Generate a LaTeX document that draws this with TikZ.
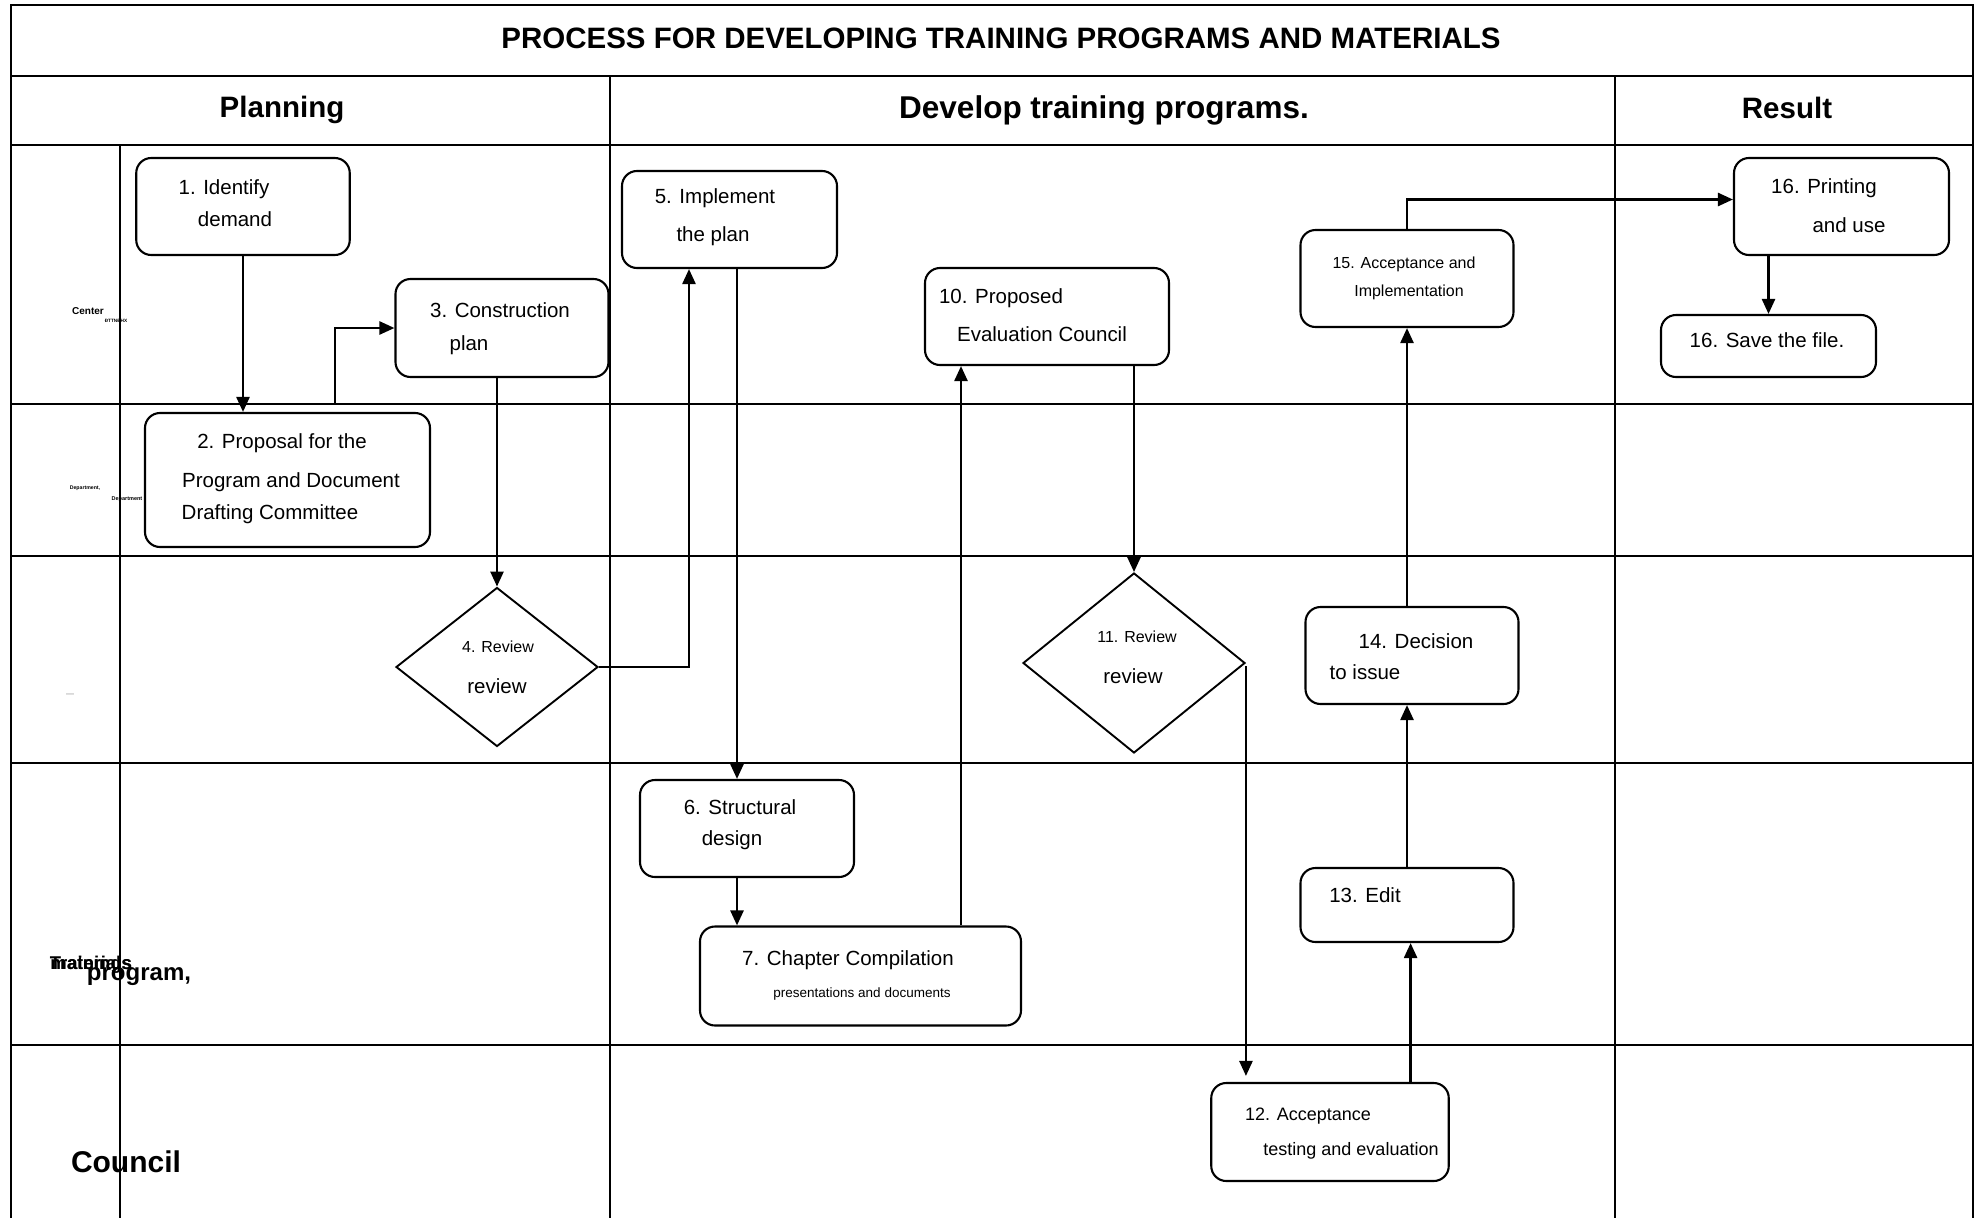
\documentclass[tikz,border=0pt]{standalone}
\usepackage{fontspec}
\setmainfont{Liberation Sans}
\usetikzlibrary{shapes.geometric,arrows.meta,calc}
\begin{document}
\begin{tikzpicture}[x=1pt,y=-1pt,
  grid/.style={line width=2.2pt},
  box/.style={draw, line width=2.1pt, rounded corners=15pt, inner sep=0pt},
  dia/.style={draw, diamond, line width=1.9pt, inner sep=0pt},
  arr/.style={line width=2.5pt, -{Triangle[length=15pt,width=13pt]}},
  t/.style={inner sep=0pt, font=\fontsize{20.5}{24}\selectfont},
  ts/.style={inner sep=0pt, font=\fontsize{16}{19}\selectfont},
  hd/.style={inner sep=0pt, font=\fontsize{29.5}{34}\selectfont\bfseries},
  lane/.style={inner sep=0pt, anchor=base},
]
\useasboundingbox (0,0) rectangle (1982,1218);
% ---------- table grid ----------
\draw[grid] (11,1218) -- (11,5) -- (1973,5) -- (1973,1218);
\foreach \yy in {76,145,404,556,763,1045} \draw[grid] (11,\yy) -- (1973,\yy);
\draw[grid] (120,145) -- (120,1218);
\draw[grid] (610,76) -- (610,1218);
\draw[grid] (1615,76) -- (1615,1218);
% ---------- headers ----------
\node[inner sep=0pt, font=\fontsize{29.5}{32}\selectfont\bfseries] (title) at (1001,38) {PROCESS FOR DEVELOPING TRAINING PROGRAMS AND MATERIALS};
\node[hd] (hplan) at (282,110) {Planning};
\node[hd, font=\fontsize{31.5}{36}\selectfont\bfseries] (hdev) at (1104,110) {Develop training programs.};
\node[hd] (hres) at (1787,107.5) {Result};
% ---------- lane labels ----------
\node[lane, font=\fontsize{10}{12}\selectfont\bfseries] (l1) at (88,314.5) {Center};
\node[lane, font=\fontsize{4.7}{6}\selectfont\bfseries] (l1b) at (116,322.5) {ĐTTNĐHX};
\node[lane, font=\fontsize{5.2}{6}\selectfont\bfseries] (l2) at (85,489) {Department,};
\node[lane, font=\fontsize{5.5}{6}\selectfont\bfseries] (l2b) at (127,500) {Department};
\node[inner sep=0pt, text=gray, font=\fontsize{8}{9}\selectfont] (l3) at (70,695) {—};
\node[lane, font=\fontsize{18.5}{20}\selectfont\bfseries] (l4a) at (91,969) {Trainings};
\node[lane, font=\fontsize{18.5}{20}\selectfont\bfseries] (l4b) at (91,969) {materials};
\node[lane, font=\fontsize{24}{26}\selectfont\bfseries] (l4c) at (139,980) {program,};
\node[lane, font=\fontsize{30}{32}\selectfont\bfseries] (l5) at (126,1172) {Council};
% ---------- boxes ----------
\node[box, minimum width=213.5pt, minimum height=97pt] (b1) at (243,206.5) {};
\node[box, minimum width=285pt, minimum height=134pt] (b2) at (287.5,480) {};
\node[box, minimum width=213pt, minimum height=98pt] (b3) at (502,328) {};
\node[dia, minimum width=202pt, minimum height=159pt] (d4) at (497,667) {};
\node[box, minimum width=215pt, minimum height=97pt] (b5) at (729.5,219.5) {};
\node[box, minimum width=214pt, minimum height=97pt] (b6) at (747,828.5) {};
\node[box, minimum width=321pt, minimum height=99pt] (b7) at (860.5,976) {};
\node[box, minimum width=244pt, minimum height=97pt] (b10) at (1047,316.5) {};
\node[dia, minimum width=222pt, minimum height=180pt] (d11) at (1134,663) {};
\node[box, minimum width=237.5pt, minimum height=98pt] (b12) at (1330,1132) {};
\node[box, minimum width=213pt, minimum height=74pt] (b13) at (1407,905) {};
\node[box, minimum width=213pt, minimum height=97pt] (b14) at (1412,655.5) {};
\node[box, minimum width=213pt, minimum height=97pt] (b15) at (1407,278.5) {};
\node[box, minimum width=215pt, minimum height=97pt] (b16a) at (1841.5,206.5) {};
\node[box, minimum width=215pt, minimum height=62pt] (b16b) at (1768.5,346) {};
% ---------- box texts ----------
\node[t] (t1a) at (224,189) {1. Identify};
\node[t] (t1b) at (235,219) {demand};
\node[t] (t2a) at (282,443) {2. Proposal for the};
\node[t] (t2b) at (291,482) {Program and Document};
\node[t] (t2c) at (270,514) {Drafting Committee};
\node[t] (t3a) at (500,310) {3. Construction};
\node[t] (t3b) at (469,345) {plan};
\node[ts] (t4a) at (498,647) {4. Review};
\node[t] (t4b) at (497,686) {review};
\node[t] (t5a) at (715,198) {5. Implement};
\node[t] (t5b) at (713,236) {the plan};
\node[t] (t6a) at (740,807) {6. Structural};
\node[t] (t6b) at (732,840) {design};
\node[t] (t7a) at (848,960) {7. Chapter Compilation};
\node[inner sep=0pt, font=\fontsize{13.5}{16}\selectfont] (t7b) at (862,994) {presentations and documents};
\node[t] (t10a) at (1001,298) {10. Proposed};
\node[t] (t10b) at (1042,334) {Evaluation Council};
\node[ts] (t11a) at (1137,637) {11. Review};
\node[t] (t11b) at (1133,676) {review};
\node[inner sep=0pt, font=\fontsize{18}{21}\selectfont] (t12a) at (1308,1116) {12. Acceptance};
\node[inner sep=0pt, font=\fontsize{18}{21}\selectfont] (t12b) at (1351,1151) {testing and evaluation};
\node[t] (t13) at (1365,895) {13. Edit};
\node[t] (t14a) at (1416,641) {14. Decision};
\node[t] (t14b) at (1365,672) {to issue};
\node[ts] (t15a) at (1404,264) {15. Acceptance and};
\node[ts] (t15b) at (1409,292) {Implementation};
\node[t] (t16a1) at (1824,188) {16. Printing};
\node[t] (t16a2) at (1849,225) {and use};
\node[t] (t16b) at (1767,340) {16. Save the file.};
% ---------- connectors ----------
\coordinate (c23) at (335,404);
\draw[arr] (b1.south) -- (b1.south |- b2.north);
\draw[arr] (c23) |- (b3.west);
\draw[arr] (d4.north |- b3.south) -- (d4.north);
\draw[arr] (d4.east) -| ([xshift=-40.5pt]b5.south);
\draw[arr] ([xshift=7.5pt]b5.south) -- ([xshift=7.5pt]b5.south |- b6.north);
\draw[arr] ([xshift=-10pt]b6.south) -- ([xshift=-10pt]b6.south |- b7.north);
\draw[arr] ([xshift=100.5pt]b7.north) -- ([xshift=100.5pt]b7.north |- b10.south);
\draw[arr] (d11.north |- b10.south) -- (d11.north);
\draw[arr, shorten >=6pt] ([yshift=-3pt]d11.east) -- (d11.east |- b12.north);
\draw[arr] ([xshift=80.6pt]b12.north) -- ([xshift=80.6pt]b12.north |- b13.south);
\draw[arr] (b13.north) -- (b13.north |- b14.south);
\draw[arr] (b15.south |- b14.north) -- (b15.south);
\draw[arr] (b15.north) |- ([yshift=7pt]b16a.west);
\draw[arr] (b16b.north |- b16a.south) -- (b16b.north);
\end{tikzpicture}
\end{document}
